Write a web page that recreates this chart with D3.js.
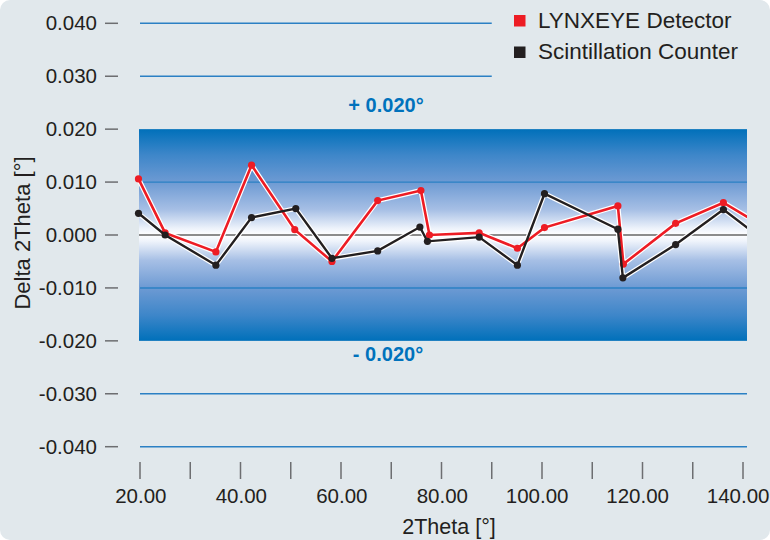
<!DOCTYPE html>
<html lang="en">
<head>
<meta charset="UTF-8">
<title>Delta 2Theta</title>
<script src="https://d3js.org/d3.v7.min.js"></script>
<style>
  body { margin: 0; background: #ffffff; font-family: 'Liberation Sans', Arial, sans-serif; }
  svg { display: block; }
</style>
</head>
<body>
<svg width="770" height="540"></svg>
<script>
// 2Theta positions and deviations
const lynxTheta = [19.7, 25.0, 35.1, 42.2, 50.8, 58.2, 67.3, 75.9, 77.6, 87.5, 95.1, 100.5, 115.1, 116.2, 126.6, 136.1, 145.0];
const lynxDelta = [0.0106, 0.0004, -0.0032, 0.0132, 0.0010, -0.0050, 0.0065, 0.0084, 0.0000, 0.0004, -0.0025, 0.0014, 0.0055, -0.0055, 0.0022, 0.0061, 0.0011];

const scintTheta = [19.7, 25.0, 35.1, 42.2, 51.0, 58.2, 67.3, 75.7, 77.2, 87.5, 95.1, 100.5, 115.1, 116.1, 126.6, 136.1, 145.0];
const scintDelta = [0.0041, 0.0000, -0.0057, 0.0033, 0.0050, -0.0044, -0.0030, 0.0015, -0.0012, -0.0004, -0.0057, 0.0078, 0.0011, -0.0081, -0.0018, 0.0048, -0.0016];

const yTicks = [0.04, 0.03, 0.02, 0.01, 0, -0.01, -0.02, -0.03, -0.04];
const xTicks = [20, 30, 40, 50, 60, 70, 80, 90, 100, 110, 120, 130, 140];
const xLabels = [20, 40, 60, 80, 100, 120, 140];
const tolerance = 0.02;
const seriesNames = ["LYNXEYE Detector", "Scintillation Counter"];
const seriesColors = ["#ed1c24", "#231f20"];

const svg = d3.select("svg");
const ink = "#231f20";
const gridBlue = "#2b80c4";

const x = d3.scaleLinear().domain([20, 140]).range([140, 743]);
const y = d3.scaleLinear().domain([-0.04, 0.04]).range([446.7, 23.3]);
const plotLeft = 139, plotRight = 747;

// background
svg.append("rect").attr("x", 0).attr("y", 0).attr("width", 770).attr("height", 540)
  .attr("rx", 10).attr("fill", "#e1e8ec");

// gradient band
const defs = svg.append("defs");
const grad = defs.append("linearGradient").attr("id", "band")
  .attr("x1", 0).attr("y1", 0).attr("x2", 0).attr("y2", 1);
[[0, "#0070ba"], [0.12, "#3d86c9"], [0.25, "#6d9ad3"], [0.38, "#a6bfe5"], [0.47, "#eef3fb"], [0.5, "#ffffff"],
 [0.53, "#eef3fb"], [0.62, "#a6bfe5"], [0.75, "#6d9ad3"], [0.88, "#3d86c9"], [1, "#0070ba"]]
  .forEach(([o, c]) => grad.append("stop").attr("offset", o).attr("stop-color", c));

defs.append("clipPath").attr("id", "clip").append("rect")
  .attr("x", 0).attr("y", 0).attr("width", plotRight).attr("height", 540);

svg.append("rect")
  .attr("x", plotLeft).attr("y", y(tolerance))
  .attr("width", plotRight - plotLeft).attr("height", y(-tolerance) - y(tolerance))
  .attr("fill", "url(#band)");

// grid lines
const grid = svg.append("g");
yTicks.filter(v => v !== 0 && Math.abs(v) !== tolerance).forEach(v => {
  const right = v > tolerance ? x(90) : plotRight;
  grid.append("line")
    .attr("x1", x(20)).attr("x2", right)
    .attr("y1", y(v)).attr("y2", y(v))
    .attr("stroke", gridBlue).attr("stroke-width", 1.4);
});
grid.append("line")
  .attr("x1", plotLeft).attr("x2", plotRight)
  .attr("y1", y(0)).attr("y2", y(0))
  .attr("stroke", "#8c8c8c").attr("stroke-width", 2);

// y axis
const yAxis = svg.append("g");
yTicks.forEach(v => {
  yAxis.append("line").attr("x1", 105).attr("x2", 118)
    .attr("y1", y(v)).attr("y2", y(v))
    .attr("stroke", "#6d6e71").attr("stroke-width", 1.5);
  yAxis.append("text").attr("x", 97).attr("y", y(v) + 7)
    .attr("text-anchor", "end").attr("font-size", 20.5).attr("fill", ink)
    .text(d3.format(".3f")(v).replace("−", "-"));
});

// x axis
const xAxis = svg.append("g");
xTicks.forEach(v => {
  xAxis.append("line").attr("x1", x(v)).attr("x2", x(v))
    .attr("y1", 462).attr("y2", 479)
    .attr("stroke", "#6d6e71").attr("stroke-width", 1.5);
});
xLabels.forEach(v => {
  xAxis.append("text").attr("x", x(v) + 26.5).attr("y", 503)
    .attr("text-anchor", "end").attr("font-size", 20.5).attr("fill", ink)
    .text(d3.format(".2f")(v));
});

// axis titles
svg.append("text").attr("x", 449).attr("y", 534)
  .attr("text-anchor", "middle").attr("font-size", 21.5).attr("fill", ink)
  .text("2Theta [°]");
svg.append("text")
  .attr("transform", `translate(30,233) rotate(-90)`)
  .attr("text-anchor", "middle").attr("font-size", 22).attr("fill", ink)
  .text("Delta 2Theta [°]");

// tolerance labels
svg.append("text").attr("x", 386).attr("y", 112)
  .attr("text-anchor", "middle").attr("font-size", 20).attr("font-weight", "bold")
  .attr("fill", "#0072bc").text("+ 0.020°");
svg.append("text").attr("x", 388).attr("y", 361)
  .attr("text-anchor", "middle").attr("font-size", 20).attr("font-weight", "bold")
  .attr("fill", "#0072bc").text("- 0.020°");

// series
const line = d3.line().x(d => x(d[0])).y(d => y(d[1]));
const series = [
  { pts: d3.zip(lynxTheta, lynxDelta), color: seriesColors[0], w: 2.6 },
  { pts: d3.zip(scintTheta, scintDelta), color: seriesColors[1], w: 2.4 }
];
const plot = svg.append("g").attr("clip-path", "url(#clip)");
series.forEach(s => {
  plot.append("path").attr("d", line(s.pts)).attr("fill", "none")
    .attr("stroke", "#ffffff").attr("stroke-width", s.w + 2.4).attr("stroke-linejoin", "round");
});
series.forEach(s => {
  plot.append("path").attr("d", line(s.pts)).attr("fill", "none")
    .attr("stroke", s.color).attr("stroke-width", s.w).attr("stroke-linejoin", "miter");
  plot.selectAll(null).data(s.pts).join("circle")
    .attr("cx", d => x(d[0])).attr("cy", d => y(d[1])).attr("r", 3.6)
    .attr("fill", s.color);
});

// legend
const legend = svg.append("g");
seriesNames.forEach((name, i) => {
  legend.append("rect").attr("x", 514).attr("y", 15 + i * 31.5)
    .attr("width", 11.5).attr("height", 11.5).attr("fill", seriesColors[i]);
  legend.append("text").attr("x", 538).attr("y", 27.5 + i * 31.5)
    .attr("font-size", 22.5).attr("fill", ink).text(name);
});
</script>
</body>
</html>
